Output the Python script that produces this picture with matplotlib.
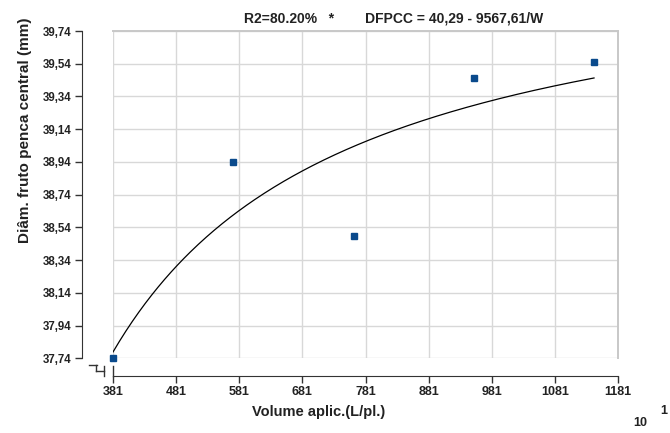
import numpy as np
import matplotlib
matplotlib.use("Agg")
import matplotlib.pyplot as plt
from matplotlib.lines import Line2D
from matplotlib.ticker import FuncFormatter

plt.rcParams['font.family'] = ['Liberation Sans', 'DejaVu Sans']

# dados
volume = [381, 571.5, 762, 952.5, 1143]
diametro = [37.74, 38.94, 38.49, 39.45, 39.55]
coef_a = 40.29
coef_b = 9567.61
x_ticks = [381, 481, 581, 681, 781, 881, 981, 1081, 1181]
y_ticks = [37.74, 37.94, 38.14, 38.34, 38.54, 38.74, 38.94, 39.14, 39.34, 39.54, 39.74]
titulo = "R2=80.20%   *        DFPCC = 40,29 - 9567,61/W"

fig = plt.figure(figsize=(6.7, 4.33), dpi=100)
ax = fig.add_axes([0.1687, 0.1725, 0.7537, 0.7559])

# curva ajustada (W em unidades x 10)
xc = np.linspace(volume[0], volume[-1], 300)
yc = coef_a - coef_b / (10 * xc)
ax.plot(xc, yc, color='black', lw=0.9, zorder=3)
ax.plot(volume, diametro, 's', color='#0a4a8c', markersize=4.2, zorder=4,
        clip_on=False)

ax.set_xlim(381, 1181)
ax.set_ylim(37.74, 39.74)
ax.set_xticks(x_ticks)
ax.set_yticks(y_ticks)
ax.yaxis.set_major_formatter(FuncFormatter(lambda v, p: f"{v:.2f}".replace('.', ',')))
ax.grid(True, color='#d8d8d8', lw=1.0)
ax.set_axisbelow(True)

for s in ['top', 'right']:
    ax.spines[s].set_color('#c8c8c8')
    ax.spines[s].set_linewidth(1.4)
ax.spines['left'].set_position(('outward', 22))
ax.spines['bottom'].set_position(('outward', 13))
ax.spines['left'].set_color('#333333')
ax.spines['bottom'].set_color('#333333')
ax.tick_params(axis='both', direction='out', length=5, width=1, colors='#333333',
               labelcolor='#222222')
ax.tick_params(axis='y', labelsize=8.3, pad=3)
ax.tick_params(axis='x', labelsize=9, pad=2)
for lab in ax.get_xticklabels() + ax.get_yticklabels():
    lab.set_fontweight('bold')

ax.set_ylabel("Diâm. fruto penca central (mm)", fontsize=11, fontweight='bold',
              color='#222222')
ax.yaxis.set_label_coords(-0.160, 0.697)
ax.set_xlabel("Volume aplic.(L/pl.)", fontsize=10.5, fontweight='bold',
              color='#222222')
ax.xaxis.set_label_coords(0.408, -0.143)
fig.text(0.588, 0.958, titulo, ha='center', va='center', fontsize=10,
         fontweight='bold', color='#222222')
fig.text(0.955, 0.024, "10", ha='center', va='center', fontsize=9,
         fontweight='bold', color='#222222')
fig.text(0.991, 0.050, "1", ha='center', va='center', fontsize=9,
         fontweight='bold', color='#222222')

# marcas de quebra dos eixos (pixels da figura)
W, H = 670.0, 433.0
def seg(x0, y0, x1, y1):
    fig.add_artist(Line2D([x0 / W, x1 / W], [1 - y0 / H, 1 - y1 / H],
                          transform=fig.transFigure, color='#333333', lw=1))
seg(89, 365, 97, 365)
seg(96, 365, 96, 371)
seg(96, 371, 104, 371)
seg(104, 366, 104, 376)
seg(113, 366, 113, 376)

fig.savefig("out.png", dpi=100)
